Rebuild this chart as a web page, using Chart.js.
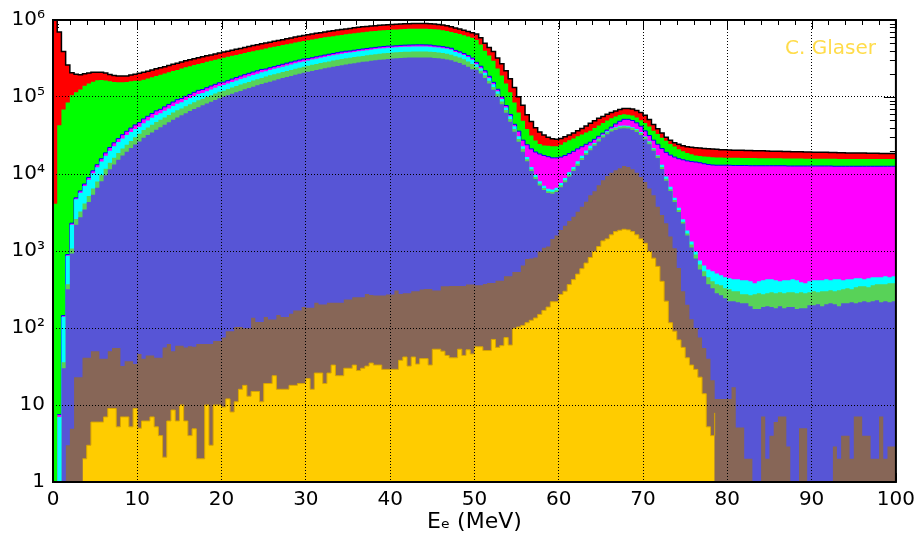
<!DOCTYPE html>
<html>
<head>
<meta charset="utf-8">
<script src="https://cdn.jsdelivr.net/npm/chart.js@4.4.1/dist/chart.umd.min.js"></script>
<style>
  html, body { margin: 0; padding: 0; background: #fff; }
  #wrap { width: 921px; height: 539px; position: relative; }
</style>
</head>
<body>
<div id="wrap"><canvas id="spectrum"></canvas></div>
<script>
// Stacked electron-energy spectrum, 0.5 MeV bins from 0 to 100 MeV.
// Every array holds the stacked (cumulative) height of one layer per bin.
const BIN_WIDTH = 0.5;

const xTicks = [0, 10, 20, 30, 40, 50, 60, 70, 80, 90, 100];
const yTicks = [1, 10, 100, 1e3, 1e4, 1e5, 1e6];
const yTickLabels = ['1', '10', '10²', '10³', '10⁴', '10⁵', '10⁶'];
const xTitle = 'Eₑ (MeV)';
const signature = 'C. Glaser';

const totalTop = [
  1.05e6, 7.0e5, 3.9e5, 2.6e5, 2.07e5, 1.97e5, 1.95e5, 2.0e5, 2.05e5, 2.1e5,
  2.1e5, 2.1e5, 2.05e5, 1.96e5, 1.9e5, 1.88e5, 1.87e5, 1.88e5, 1.93e5, 1.98e5,
  2.03e5, 2.09e5, 2.16e5, 2.24e5, 2.32e5, 2.4e5, 2.48e5, 2.57e5, 2.66e5, 2.75e5,
  2.85e5, 2.95e5, 3.05e5, 3.15e5, 3.24e5, 3.33e5, 3.43e5, 3.52e5, 3.62e5, 3.72e5,
  3.83e5, 3.94e5, 4.05e5, 4.16e5, 4.28e5, 4.4e5, 4.52e5, 4.65e5, 4.78e5, 4.9e5,
  5.02e5, 5.15e5, 5.28e5, 5.42e5, 5.56e5, 5.7e5, 5.85e5, 6.0e5, 6.14e5, 6.28e5,
  6.43e5, 6.58e5, 6.71e5, 6.85e5, 7.0e5, 7.13e5, 7.26e5, 7.4e5, 7.53e5, 7.66e5,
  7.78e5, 7.91e5, 8.04e5, 8.15e5, 8.26e5, 8.36e5, 8.45e5, 8.55e5, 8.63e5, 8.7e5,
  8.77e5, 8.83e5, 8.89e5, 8.93e5, 8.97e5, 9.0e5, 9.02e5, 9.02e5, 9.0e5, 8.95e5,
  8.87e5, 8.75e5, 8.6e5, 8.4e5, 8.17e5, 7.9e5, 7.65e5, 7.38e5, 7.1e5, 6.85e5,
  6.6e5, 5.9e5, 5.0e5, 4.4e5, 3.9e5, 3.2e5, 2.7e5, 2.2e5, 1.73e5, 1.33e5,
  1.01e5, 7.8e4, 5.9e4, 4.8e4, 4.0e4, 3.5e4, 3.2e4, 3.0e4, 2.87e4, 2.83e4,
  2.9e4, 3.05e4, 3.2e4, 3.4e4, 3.64e4, 3.9e4, 4.2e4, 4.55e4, 4.9e4, 5.3e4,
  5.6e4, 5.95e4, 6.3e4, 6.6e4, 6.9e4, 7.1e4, 7.1e4, 7.0e4, 6.7e4, 6.3e4,
  5.8e4, 5.1e4, 4.4e4, 3.87e4, 3.4e4, 3.0e4, 2.75e4, 2.55e4, 2.44e4, 2.33e4,
  2.26e4, 2.22e4, 2.2e4, 2.17e4, 2.15e4, 2.13e4, 2.11e4, 2.09e4, 2.07e4, 2.06e4,
  2.05e4, 2.04e4, 2.03e4, 2.03e4, 2.02e4, 2.02e4, 2.01e4, 2.0e4, 2.0e4, 1.99e4,
  1.98e4, 1.98e4, 1.97e4, 1.96e4, 1.96e4, 1.95e4, 1.94e4, 1.94e4, 1.93e4, 1.93e4,
  1.92e4, 1.92e4, 1.91e4, 1.91e4, 1.9e4, 1.9e4, 1.89e4, 1.89e4, 1.88e4, 1.88e4,
  1.87e4, 1.87e4, 1.87e4, 1.86e4, 1.86e4, 1.86e4, 1.85e4, 1.85e4, 1.85e4, 1.84e4
];

const greenTop = [
  4.1e3, 4.3e4, 6.9e4, 8.5e4, 1.05e5, 1.15e5, 1.25e5, 1.4e5, 1.5e5, 1.58e5,
  1.65e5, 1.66e5, 1.64e5, 1.6e5, 1.57e5, 1.56e5, 1.56e5, 1.57e5, 1.6e5, 1.62e5,
  1.63e5, 1.68e5, 1.74e5, 1.81e5, 1.88e5, 1.95e5, 2.02e5, 2.09e5, 2.17e5, 2.25e5,
  2.34e5, 2.43e5, 2.51e5, 2.6e5, 2.68e5, 2.77e5, 2.87e5, 2.96e5, 3.05e5, 3.13e5,
  3.24e5, 3.33e5, 3.43e5, 3.52e5, 3.62e5, 3.72e5, 3.83e5, 3.93e5, 4.05e5, 4.15e5,
  4.27e5, 4.38e5, 4.49e5, 4.61e5, 4.73e5, 4.85e5, 4.97e5, 5.1e5, 5.22e5, 5.34e5,
  5.47e5, 5.6e5, 5.71e5, 5.83e5, 5.95e5, 6.06e5, 6.17e5, 6.29e5, 6.4e5, 6.51e5,
  6.63e5, 6.74e5, 6.85e5, 6.94e5, 7.04e5, 7.12e5, 7.2e5, 7.29e5, 7.36e5, 7.42e5,
  7.5e5, 7.55e5, 7.6e5, 7.64e5, 7.67e5, 7.7e5, 7.71e5, 7.71e5, 7.7e5, 7.65e5,
  7.6e5, 7.5e5, 7.38e5, 7.2e5, 7.0e5, 6.78e5, 6.56e5, 6.33e5, 6.1e5, 5.88e5,
  5.5e5, 4.8e5, 4.0e5, 3.45e5, 2.95e5, 2.35e5, 1.9e5, 1.5e5, 1.15e5, 8.5e4,
  6.3e4, 4.93e4, 3.85e4, 3.16e4, 2.72e4, 2.46e4, 2.35e4, 2.33e4, 2.3e4, 2.3e4,
  2.4e4, 2.59e4, 2.75e4, 2.9e4, 3.1e4, 3.25e4, 3.45e4, 3.65e4, 3.95e4, 4.25e4,
  4.6e4, 4.95e4, 5.3e4, 5.6e4, 5.85e4, 5.95e4, 5.9e4, 5.75e4, 5.4e4, 5.0e4,
  4.6e4, 4.15e4, 3.65e4, 3.3e4, 2.95e4, 2.7e4, 2.45e4, 2.28e4, 2.1e4, 1.98e4,
  1.88e4, 1.8e4, 1.74e4, 1.71e4, 1.69e4, 1.67e4, 1.65e4, 1.64e4, 1.64e4, 1.63e4,
  1.62e4, 1.62e4, 1.62e4, 1.61e4, 1.61e4, 1.61e4, 1.61e4, 1.6e4, 1.6e4, 1.6e4,
  1.6e4, 1.6e4, 1.6e4, 1.59e4, 1.59e4, 1.59e4, 1.59e4, 1.59e4, 1.58e4, 1.58e4,
  1.58e4, 1.58e4, 1.58e4, 1.58e4, 1.58e4, 1.58e4, 1.57e4, 1.57e4, 1.57e4, 1.57e4,
  1.57e4, 1.57e4, 1.57e4, 1.57e4, 1.57e4, 1.57e4, 1.57e4, 1.57e4, 1.57e4, 1.57e4
];

const magentaTop = [
  0, 7.5, 145, 900, 2300, 4900, 6030, 7410, 9020, 1.1e4,
  1.32e4, 1.58e4, 1.88e4, 2.21e4, 2.54e4, 2.88e4, 3.24e4, 3.59e4, 3.95e4, 4.34e4,
  4.66e4, 5.19e4, 5.62e4, 6.1e4, 6.61e4, 6.92e4, 7.45e4, 8.02e4, 8.61e4, 9.23e4,
  9.55e4, 1.02e5, 1.08e5, 1.15e5, 1.22e5, 1.25e5, 1.32e5, 1.39e5, 1.46e5, 1.53e5,
  1.56e5, 1.63e5, 1.71e5, 1.79e5, 1.87e5, 1.95e5, 2.03e5, 2.11e5, 2.19e5, 2.28e5,
  2.31e5, 2.4e5, 2.48e5, 2.57e5, 2.66e5, 2.75e5, 2.84e5, 2.93e5, 3.02e5, 3.11e5,
  3.15e5, 3.24e5, 3.33e5, 3.41e5, 3.5e5, 3.59e5, 3.67e5, 3.76e5, 3.85e5, 3.93e5,
  3.96e5, 4.05e5, 4.12e5, 4.2e5, 4.27e5, 4.34e5, 4.41e5, 4.47e5, 4.53e5, 4.58e5,
  4.59e5, 4.63e5, 4.68e5, 4.71e5, 4.73e5, 4.75e5, 4.76e5, 4.76e5, 4.75e5, 4.73e5,
  4.63e5, 4.58e5, 4.51e5, 4.42e5, 4.3e5, 4.03e5, 3.86e5, 3.67e5, 3.45e5, 3.2e5,
  2.82e5, 2.51e5, 2.19e5, 1.86e5, 1.55e5, 1.26e5, 1.0e5, 7.76e4, 5.94e4, 4.42e4,
  3.6e4, 2.75e4, 2.4e4, 2.12e4, 1.93e4, 1.82e4, 1.74e4, 1.68e4, 1.62e4, 1.62e4,
  1.66e4, 1.74e4, 1.84e4, 1.97e4, 2.12e4, 2.26e4, 2.43e4, 2.59e4, 2.82e4, 3.09e4,
  3.39e4, 3.72e4, 4.07e4, 4.47e4, 4.84e4, 5.13e4, 5.13e4, 4.95e4, 4.62e4, 4.17e4,
  3.63e4, 3.16e4, 2.75e4, 2.43e4, 2.14e4, 1.91e4, 1.76e4, 1.66e4, 1.58e4, 1.53e4,
  1.48e4, 1.45e4, 1.43e4, 1.4e4, 1.36e4, 1.33e4, 1.31e4, 1.3e4, 1.3e4, 1.3e4,
  1.3e4, 1.29e4, 1.29e4, 1.29e4, 1.29e4, 1.28e4, 1.28e4, 1.28e4, 1.28e4, 1.28e4,
  1.28e4, 1.28e4, 1.28e4, 1.28e4, 1.27e4, 1.27e4, 1.27e4, 1.27e4, 1.27e4, 1.27e4,
  1.27e4, 1.27e4, 1.27e4, 1.27e4, 1.27e4, 1.26e4, 1.26e4, 1.26e4, 1.26e4, 1.26e4,
  1.26e4, 1.26e4, 1.26e4, 1.26e4, 1.26e4, 1.26e4, 1.26e4, 1.26e4, 1.26e4, 1.26e4
];

const cyanTop = [
  0, 7, 140, 870, 2200, 4700, 5690, 6970, 8410, 1.02e4,
  1.22e4, 1.45e4, 1.72e4, 2.01e4, 2.3e4, 2.6e4, 2.9e4, 3.2e4, 3.51e4, 3.84e4,
  4.1e4, 4.57e4, 4.95e4, 5.37e4, 5.82e4, 6.14e4, 6.61e4, 7.11e4, 7.64e4, 8.18e4,
  8.55e4, 9.12e4, 9.7e4, 1.03e5, 1.09e5, 1.13e5, 1.19e5, 1.25e5, 1.32e5, 1.39e5,
  1.43e5, 1.5e5, 1.57e5, 1.64e5, 1.71e5, 1.78e5, 1.86e5, 1.93e5, 2.01e5, 2.09e5,
  2.16e5, 2.24e5, 2.32e5, 2.4e5, 2.48e5, 2.56e5, 2.65e5, 2.74e5, 2.82e5, 2.9e5,
  2.98e5, 3.06e5, 3.15e5, 3.23e5, 3.31e5, 3.4e5, 3.48e5, 3.56e5, 3.64e5, 3.72e5,
  3.77e5, 3.85e5, 3.92e5, 3.99e5, 4.06e5, 4.12e5, 4.19e5, 4.25e5, 4.31e5, 4.36e5,
  4.38e5, 4.42e5, 4.46e5, 4.49e5, 4.51e5, 4.53e5, 4.54e5, 4.54e5, 4.53e5, 4.51e5,
  4.43e5, 4.38e5, 4.31e5, 4.22e5, 4.1e5, 3.85e5, 3.69e5, 3.51e5, 3.3e5, 3.05e5,
  2.66e5, 2.37e5, 2.07e5, 1.76e5, 1.46e5, 1.19e5, 9.44e4, 7.33e4, 5.61e4, 4.17e4,
  3.09e4, 2.3e4, 1.66e4, 1.23e4, 9800, 8040, 7060, 6410, 6280, 6610,
  7660, 8890, 1.05e4, 1.23e4, 1.46e4, 1.72e4, 2.02e4, 2.32e4, 2.53e4, 2.88e4,
  3.24e4, 3.58e4, 3.88e4, 4.06e4, 4.24e4, 4.28e4, 4.24e4, 4.06e4, 3.84e4, 3.51e4,
  3.08e4, 2.66e4, 2.18e4, 1.75e4, 1.32e4, 9310, 6810, 4910, 3650, 2580,
  1840, 1327, 986, 754, 650, 577, 544, 512, 483, 455,
  442, 429, 429, 416, 416, 404, 381, 404, 416, 429,
  429, 416, 404, 416, 416, 429, 416, 392, 381, 404,
  416, 416, 416, 429, 416, 429, 429, 416, 429, 429,
  442, 442, 429, 442, 455, 455, 455, 469, 455, 469
];

const green2Top = [
  0, 0, 36, 370, 1080, 2600, 3270, 4150, 5190, 6460,
  7980, 9720, 1.17e4, 1.4e4, 1.63e4, 1.87e4, 2.14e4, 2.4e4, 2.69e4, 3.0e4,
  3.33e4, 3.72e4, 4.03e4, 4.37e4, 4.73e4, 5.05e4, 5.43e4, 5.85e4, 6.28e4, 6.73e4,
  7.11e4, 7.59e4, 8.07e4, 8.57e4, 9.08e4, 9.48e4, 1.0e5, 1.05e5, 1.11e5, 1.17e5,
  1.21e5, 1.27e5, 1.33e5, 1.39e5, 1.45e5, 1.51e5, 1.57e5, 1.64e5, 1.7e5, 1.77e5,
  1.84e5, 1.91e5, 1.97e5, 2.04e5, 2.11e5, 2.18e5, 2.25e5, 2.33e5, 2.4e5, 2.47e5,
  2.55e5, 2.62e5, 2.69e5, 2.76e5, 2.83e5, 2.9e5, 2.97e5, 3.04e5, 3.11e5, 3.18e5,
  3.23e5, 3.3e5, 3.36e5, 3.42e5, 3.48e5, 3.53e5, 3.59e5, 3.64e5, 3.69e5, 3.73e5,
  3.77e5, 3.8e5, 3.84e5, 3.86e5, 3.88e5, 3.9e5, 3.91e5, 3.91e5, 3.9e5, 3.88e5,
  3.83e5, 3.78e5, 3.72e5, 3.65e5, 3.55e5, 3.39e5, 3.25e5, 3.09e5, 2.9e5, 2.69e5,
  2.45e5, 2.19e5, 1.91e5, 1.62e5, 1.35e5, 1.1e5, 8.71e4, 6.76e4, 5.18e4, 3.85e4,
  2.85e4, 2.12e4, 1.55e4, 1.15e4, 9140, 7500, 6590, 5980, 5860, 6170,
  7140, 8300, 9800, 1.15e4, 1.36e4, 1.61e4, 1.88e4, 2.16e4, 2.46e4, 2.81e4,
  3.16e4, 3.48e4, 3.78e4, 3.95e4, 4.12e4, 4.16e4, 4.12e4, 3.95e4, 3.73e4, 3.41e4,
  3.0e4, 2.59e4, 2.12e4, 1.71e4, 1.23e4, 8690, 6350, 4580, 3400, 2400,
  1682, 1213, 901, 670, 544, 455, 404, 370, 359, 328,
  319, 300, 300, 275, 275, 267, 275, 283, 275, 283,
  292, 283, 292, 283, 292, 292, 283, 292, 283, 292,
  300, 292, 300, 300, 309, 300, 309, 319, 328, 319,
  338, 348, 348, 338, 359, 370, 370, 370, 381, 381
];

const slateTop = [
  0, 0, 30, 318, 930, 2190, 2750, 3470, 4320, 5370,
  6610, 8040, 9660, 1.15e4, 1.33e4, 1.53e4, 1.74e4, 1.95e4, 2.17e4, 2.41e4,
  2.65e4, 2.95e4, 3.2e4, 3.47e4, 3.76e4, 4.06e4, 4.37e4, 4.7e4, 5.05e4, 5.41e4,
  5.78e4, 6.17e4, 6.56e4, 6.97e4, 7.38e4, 7.8e4, 8.22e4, 8.67e4, 9.12e4, 9.6e4,
  1.01e5, 1.05e5, 1.1e5, 1.15e5, 1.2e5, 1.26e5, 1.31e5, 1.36e5, 1.42e5, 1.47e5,
  1.53e5, 1.58e5, 1.64e5, 1.7e5, 1.76e5, 1.82e5, 1.87e5, 1.94e5, 2.0e5, 2.06e5,
  2.12e5, 2.18e5, 2.24e5, 2.3e5, 2.36e5, 2.42e5, 2.47e5, 2.53e5, 2.59e5, 2.64e5,
  2.7e5, 2.75e5, 2.81e5, 2.86e5, 2.9e5, 2.95e5, 3.0e5, 3.04e5, 3.08e5, 3.12e5,
  3.16e5, 3.18e5, 3.21e5, 3.24e5, 3.25e5, 3.27e5, 3.27e5, 3.27e5, 3.27e5, 3.25e5,
  3.22e5, 3.18e5, 3.13e5, 3.07e5, 2.99e5, 2.88e5, 2.77e5, 2.63e5, 2.47e5, 2.29e5,
  2.26e5, 2.02e5, 1.76e5, 1.5e5, 1.24e5, 1.01e5, 8.04e4, 6.24e4, 4.78e4, 3.55e4,
  2.63e4, 1.95e4, 1.46e4, 1.09e4, 8630, 7080, 6220, 5650, 5530, 5820,
  6750, 7830, 9250, 1.09e4, 1.28e4, 1.52e4, 1.78e4, 2.04e4, 2.32e4, 2.65e4,
  2.98e4, 3.29e4, 3.56e4, 3.73e4, 3.89e4, 3.93e4, 3.89e4, 3.73e4, 3.52e4, 3.22e4,
  2.83e4, 2.44e4, 2.0e4, 1.61e4, 1.16e4, 8200, 6000, 4330, 3210, 2270,
  1585, 1109, 800, 577, 469, 370, 328, 283, 267, 244,
  223, 223, 216, 210, 210, 192, 176, 176, 187, 192,
  187, 181, 192, 181, 187, 187, 176, 181, 181, 198,
  198, 204, 192, 204, 210, 204, 192, 210, 210, 216,
  210, 216, 223, 216, 223, 230, 216, 223, 216, 223
];

const brownTop = [
  0, 0, 0, 3, 4.9, 23, 23, 41, 41, 50,
  50, 40, 40, 50, 55, 55, 32, 37, 37, 34,
  46, 40, 44, 44, 41, 41, 56, 62, 50, 59,
  59, 56, 58, 57, 62, 62, 62, 62, 68, 68,
  75, 91, 91, 103, 103, 99, 99, 136, 120, 120,
  139, 129, 129, 147, 139, 139, 153, 169, 169, 188,
  183, 183, 212, 202, 202, 212, 212, 212, 212, 234,
  234, 251, 251, 251, 277, 268, 265, 265, 265, 272,
  272, 306, 277, 282, 282, 300, 300, 316, 322, 322,
  306, 306, 348, 348, 352, 352, 352, 352, 366, 366,
  360, 360, 373, 385, 385, 412, 412, 469, 469, 533,
  533, 650, 790, 800, 824, 986, 1100, 1143, 1437, 1585,
  1876, 2133, 2455, 2787, 3236, 3750, 4355, 5310, 5980, 7150,
  8300, 9420, 10400, 11200, 11900, 12700, 12300, 11500, 10400, 9150,
  7880, 6470, 5310, 3750, 2930, 2285, 1540, 1087, 600, 300,
  200, 130, 100, 75, 55, 40, 21, 12, 12, 12,
  12, 17, 5.1, 5.1, 2, 2, 2.9, 0, 7.1, 2,
  4, 6, 7.1, 7.1, 2.9, 2.9, 0, 5, 5, 2.9,
  0, 0, 0, 2, 0, 2.9, 2, 4, 4, 2,
  7.1, 7.1, 4, 4, 2, 2, 7.1, 2, 2.9, 2.9
];

const yellowTop = [
  0, 0, 0, 0, 0, 0, 0, 2, 3, 6,
  6, 6, 7, 9, 9, 5.2, 7, 7, 5.2, 9,
  5, 6.2, 6.2, 7, 5.2, 4, 2.1, 6.2, 8.6, 6.2,
  10, 6.2, 4, 4.9, 2, 2, 10, 3, 10, 10,
  9.4, 12, 8.1, 11, 16, 18, 13, 15, 15, 11,
  19, 19, 24, 16, 16, 16, 18, 18, 19, 19,
  22, 16, 26, 26, 19, 26, 33, 24, 24, 30,
  30, 33, 28, 30, 32, 35, 33, 33, 29, 29,
  29, 29, 38, 42, 32, 42, 34, 40, 40, 33,
  53, 53, 50, 44, 41, 41, 53, 44, 52, 46,
  57, 57, 51, 51, 71, 56, 59, 75, 60, 99,
  103, 108, 117, 126, 135, 150, 169, 187, 219, 219,
  272, 300, 366, 425, 501, 589, 697, 824, 986, 1143,
  1353, 1437, 1620, 1786, 1857, 1914, 1880, 1786, 1620, 1437,
  1260, 986, 808, 631, 404, 223, 117, 91, 70, 56,
  41, 33, 29, 23, 14, 5.2, 4, 7.9, 0, 2,
  0, 3, 0, 2, 0, 0, 0, 0, 0, 0,
  0, 0, 0, 0, 0, 0, 0, 0, 0, 0,
  0, 0, 0, 0, 0, 0, 0, 0, 0, 0,
  0, 0, 0, 0, 0, 0, 0, 0, 0, 0
];

// histogram bins -> step points (left edge of every bin plus the closing edge)
function toSteps(values) {
    const points = values.map((v, i) => ({ x: i * BIN_WIDTH, y: v }));
    points.push({ x: values.length * BIN_WIDTH, y: values[values.length - 1] });
    return points;
}

function layer(label, values, color, lineColor, lineWidth) {
    return {
        label: label,
        data: toSteps(values),
        stepped: 'before',
        fill: 'start',
        backgroundColor: color,
        borderColor: lineColor || 'rgba(0,0,0,0)',
        borderWidth: lineWidth || 0,
        pointRadius: 0,
        tension: 0
    };
}

// ROOT-like frame, inner tick marks and the signature
const frameAndTicks = {
    id: 'frameAndTicks',
    beforeDatasetsDraw(chart) {
        const { ctx, chartArea: { left, right, top, bottom }, scales: { x, y } } = chart;
        ctx.save();
        ctx.strokeStyle = '#000';
        ctx.lineWidth = 1;
        ctx.beginPath();
        for (let v = 0; v <= 100; v += 2) {
            const px = Math.round(x.getPixelForValue(v)) + 0.5;
            const len = v % 10 === 0 ? 9 : 5;
            ctx.moveTo(px, top); ctx.lineTo(px, top + len);
            ctx.moveTo(px, bottom); ctx.lineTo(px, bottom - len);
        }
        for (let d = 0; d < 6; d++) {
            for (let k = 1; k < 10; k++) {
                const py = Math.round(y.getPixelForValue(k * Math.pow(10, d))) + 0.5;
                const len = k === 1 ? 12 : 6;
                ctx.moveTo(left, py); ctx.lineTo(left + len, py);
                ctx.moveTo(right, py); ctx.lineTo(right - len, py);
            }
        }
        ctx.stroke();
        ctx.restore();
    },
    afterDraw(chart) {
        const { ctx, chartArea: { left, right, top, bottom } } = chart;
        ctx.save();
        ctx.strokeStyle = '#000';
        ctx.lineWidth = 2;
        ctx.strokeRect(left, top, right - left, bottom - top);
        ctx.fillStyle = '#ffdc4a';
        ctx.font = '20px "DejaVu Sans"';
        ctx.textAlign = 'left';
        ctx.textBaseline = 'alphabetic';
        ctx.fillText(signature, 785, 54);
        ctx.restore();
    }
};

Chart.defaults.font.family = '"DejaVu Sans", sans-serif';

const ctx = document.getElementById('spectrum').getContext('2d');
new Chart(ctx, {
    type: 'line',
    data: {
        datasets: [
            layer('yellow', yellowTop, '#ffcc00', '#d9a600', 1),
            layer('brown', brownTop, '#876657'),
            layer('slate', slateTop, '#5755d6'),
            layer('green2', green2Top, '#58d258'),
            layer('cyan', cyanTop, '#00ffff'),
            layer('magenta', magentaTop, '#ff00ff', '#0000ff', 1),
            layer('green', greenTop, '#00ff00'),
            layer('total', totalTop, '#ff0000', '#000000', 1.5)
        ]
    },
    options: {
        responsive: true,
        maintainAspectRatio: false,
        animation: false,
        devicePixelRatio: 1,
        layout: { padding: { top: 17, right: 23, left: 0, bottom: 0 } },
        plugins: {
            legend: { display: false },
            tooltip: { enabled: false }
        },
        scales: {
            x: {
                type: 'linear',
                min: 0,
                max: 100,
                afterBuildTicks: (axis) => { axis.ticks = xTicks.map(v => ({ value: v })); },
                afterFit: (axis) => { axis.height = 57; },
                ticks: {
                    autoSkip: false,
                    maxRotation: 0,
                    padding: 6,
                    color: '#000',
                    font: { size: 20 }
                },
                // grid drawn over the filled layers, as in the original plot
                grid: { color: '#000', lineWidth: 1, drawTicks: false, z: 1 },
                border: { display: false, dash: [1, 2] },
                title: {
                    display: true,
                    text: xTitle,
                    color: '#000',
                    font: { size: 22 },
                    padding: { top: 0, bottom: 4 }
                }
            },
            y: {
                type: 'logarithmic',
                min: 1,
                max: 1e6,
                afterBuildTicks: (axis) => { axis.ticks = yTicks.map(v => ({ value: v })); },
                afterFit: (axis) => { axis.width = 53; },
                ticks: {
                    autoSkip: false,
                    padding: 8,
                    color: '#000',
                    font: { size: 20 },
                    callback: (value, index) => yTickLabels[index]
                },
                grid: { color: '#000', lineWidth: 1, drawTicks: false, z: 1 },
                border: { display: false, dash: [1, 2] }
            }
        }
    },
    plugins: [frameAndTicks]
});
</script>
</body>
</html>
